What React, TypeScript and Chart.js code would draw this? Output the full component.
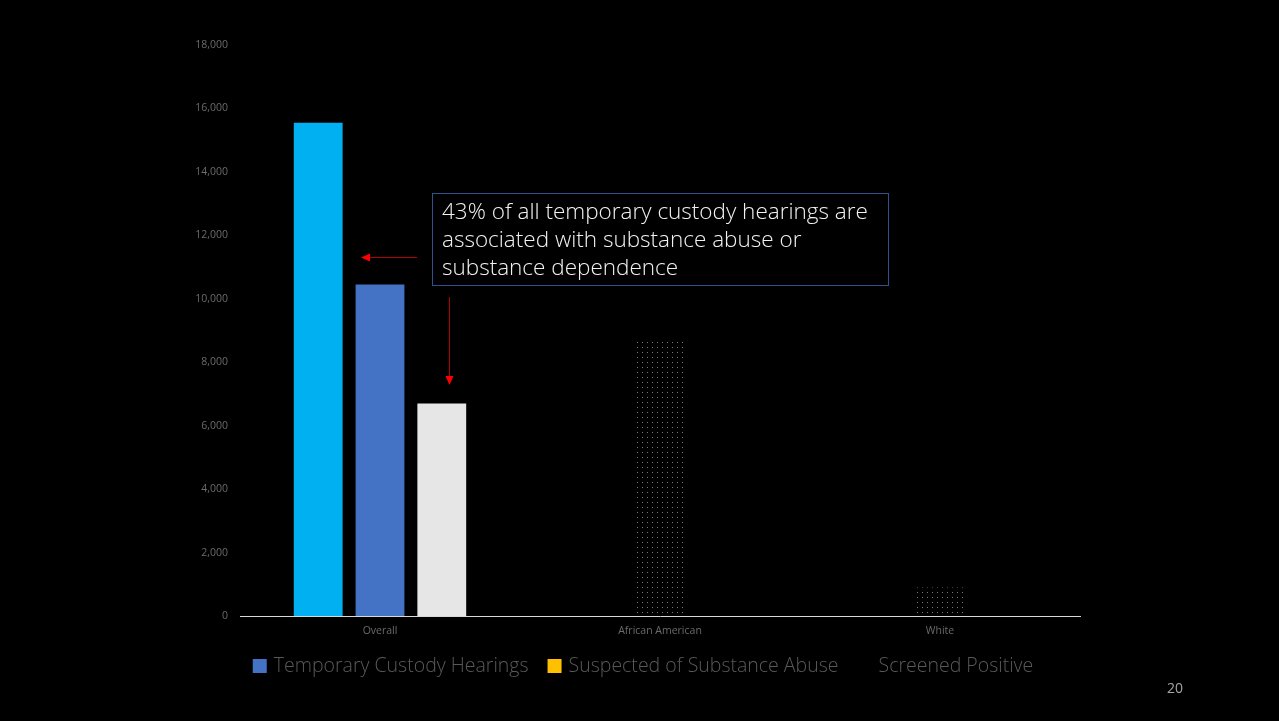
import { useEffect, useRef } from 'react';
import { Chart, registerables } from 'chart.js';

Chart.register(...registerables);

const categories = ['Overall', 'African American', 'White'];
const seriesNames = ['Temporary Custody Hearings', 'Suspected of Substance Abuse', 'Screened Positive'];
const hearings = [15550, 0, 0];
const suspected = [10450, 8650, 900];
const screened = [6700, 0, 0];
const yMin = 0;
const yMax = 18000;
const yStep = 2000;
const legendColors = ['#4472C4', '#FFC000', 'rgba(0,0,0,0)'];
const calloutLines = [
  '43% of all temporary custody hearings are',
  'associated with substance abuse or',
  'substance dependence',
];
const pageNumber = '20';

const FONT = "'Open Sans', 'Noto Sans', 'DejaVu Sans', sans-serif";

function makeDotPattern(): CanvasPattern | string {
  const c = document.createElement('canvas');
  c.width = 5;
  c.height = 5;
  const g = c.getContext('2d');
  if (!g) return '#333';
  g.fillStyle = '#000';
  g.fillRect(0, 0, 5, 5);
  g.fillStyle = '#7a7a7a';
  g.fillRect(2, 2, 1, 1);
  const p = g.createPattern(c, 'repeat');
  return p || '#333';
}

const overlayPlugin = {
  id: 'overlay',
  afterDraw(chart: any) {
    const ctx = chart.ctx as CanvasRenderingContext2D;
    ctx.save();
    // Legend
    ctx.font = `300 19.5px ${FONT}`;
    ctx.textBaseline = 'middle';
    const box = 14;
    const gap = 7;
    const spacing = 19;
    const widths = seriesNames.map((n) => ctx.measureText(n).width);
    const total = widths.reduce((a, w) => a + box + gap + w, 0) + spacing * (seriesNames.length - 1);
    let x = 643 - total / 2;
    const ly = 666;
    seriesNames.forEach((n, i) => {
      ctx.fillStyle = legendColors[i];
      ctx.fillRect(x, ly - box / 2, box, box);
      x += box + gap;
      ctx.fillStyle = '#595959';
      ctx.fillText(n, x, ly);
      x += widths[i] + spacing;
    });

    // Callout box
    ctx.strokeStyle = '#2F528F';
    ctx.lineWidth = 1;
    ctx.strokeRect(432.5, 193.5, 456, 92);
    ctx.fillStyle = '#F2F2F2';
    ctx.font = `300 22.5px ${FONT}`;
    ctx.textBaseline = 'middle';
    calloutLines.forEach((l, i) => {
      ctx.fillText(l, 442, 213 + i * 28);
    });

    // Arrows
    ctx.strokeStyle = '#B00000';
    ctx.lineWidth = 1;
    ctx.beginPath();
    ctx.moveTo(417, 257.5);
    ctx.lineTo(368, 257.5);
    ctx.stroke();
    ctx.fillStyle = '#FF0000';
    ctx.beginPath();
    ctx.moveTo(361, 257.5);
    ctx.lineTo(370, 253.5);
    ctx.lineTo(370, 261.5);
    ctx.closePath();
    ctx.fill();

    ctx.beginPath();
    ctx.moveTo(449.5, 297);
    ctx.lineTo(449.5, 377);
    ctx.stroke();
    ctx.beginPath();
    ctx.moveTo(449.5, 385);
    ctx.lineTo(445.5, 376);
    ctx.lineTo(453.5, 376);
    ctx.closePath();
    ctx.fill();

    // Page number
    ctx.fillStyle = '#A6A6A6';
    ctx.font = `14px ${FONT}`;
    ctx.textAlign = 'center';
    ctx.fillText(pageNumber, 1175, 689);
    ctx.restore();
  },
};

export default function App() {
  const ref = useRef<HTMLCanvasElement | null>(null);

  useEffect(() => {
    document.body.style.background = '#000';
    const canvas = ref.current;
    if (!canvas) return;
    const dots = makeDotPattern();
    Chart.defaults.font.family = FONT;
    const chart = new Chart(canvas, {
      type: 'bar',
      data: {
        labels: categories,
        datasets: [
          {
            label: seriesNames[0],
            data: hearings,
            backgroundColor: ['#00B0F0', '#000000', '#000000'],
          },
          {
            label: seriesNames[1],
            data: suspected,
            backgroundColor: ['#4472C4', dots as any, dots as any],
          },
          {
            label: seriesNames[2],
            data: screened,
            backgroundColor: ['#E7E6E6', '#000000', '#000000'],
          },
        ],
      },
      options: {
        responsive: false,
        animation: false,
        devicePixelRatio: 1,
        layout: { padding: { left: 0, right: 199, top: 45, bottom: 75 } },
        datasets: {
          bar: { categoryPercentage: 0.662, barPercentage: 0.79 },
        },
        plugins: {
          legend: { display: false },
          tooltip: { enabled: false },
        },
        scales: {
          x: {
            grid: { display: false, drawTicks: false },
            border: { display: true, color: '#D9D9D9', width: 1 },
            ticks: { color: '#6b6b6b', font: { size: 10.5 }, padding: 9 },
            afterFit: (s: any) => {
              s.height = 30;
            },
          },
          y: {
            min: yMin,
            max: yMax,
            grid: { display: false, drawTicks: false },
            border: { display: false },
            ticks: {
              stepSize: yStep,
              color: '#6b6b6b',
              font: { size: 10.5 },
              padding: 12,
              callback: (v: any) => Number(v).toLocaleString('en-US'),
            },
            afterFit: (s: any) => {
              s.width = 240;
            },
          },
        },
      },
      plugins: [overlayPlugin],
    });
    return () => chart.destroy();
  }, []);

  return (
    <div style={{ position: 'absolute', left: 0, top: 0, width: 1279, height: 721, background: '#000' }}>
      <canvas ref={ref} width={1279} height={721} style={{ display: 'block', width: 1279, height: 721 }} />
    </div>
  );
}
